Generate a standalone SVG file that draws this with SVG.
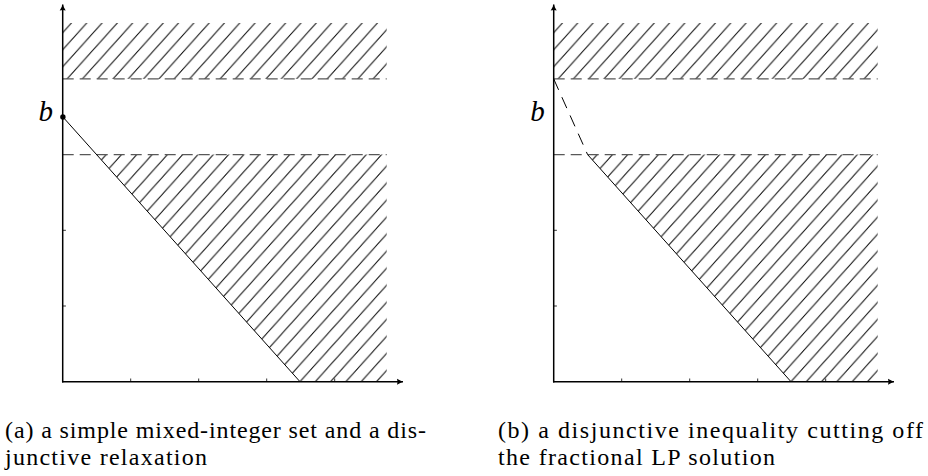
<svg xmlns="http://www.w3.org/2000/svg" width="928" height="476" viewBox="0 0 928 476">
  <style>
    .axis { stroke: #000; stroke-width: 1.5; fill: none; }
    .tick { stroke: #000; stroke-width: 0.8; fill: none; }
    .bound { stroke: #585858; stroke-width: 1.4; stroke-dasharray: 11 6; fill: none; }
    .cut { stroke: #000; stroke-width: 1; fill: none; }
    .cutdash { stroke: #000; stroke-width: 1; stroke-dasharray: 12 8; fill: none; }
    .hatch { fill: url(#hatch); stroke: none; }
    .lbl { font-family: "Liberation Serif", serif; font-style: italic; font-size: 29px; fill: #000; }
    .cap { font-family: "Liberation Serif", "Times New Roman", serif; font-size: 24px; fill: #000; }
  </style>
  <defs>
    <pattern id="hatch" patternUnits="userSpaceOnUse" x="0.3" y="0" width="15.3" height="17.03">
      <path d="M0,17.03 L15.3,0 M-1.53,1.703 L1.53,-1.703 M13.77,18.733 L16.83,15.327" stroke="#000" stroke-width="1" fill="none"/>
    </pattern>
    <marker id="arr" markerUnits="userSpaceOnUse" markerWidth="10" markerHeight="10" refX="0" refY="0" viewBox="-7 -5 10 10" orient="auto" overflow="visible">
      <path d="M-6,-3 Q-2.5,-0.8 0,0 Q-2.5,0.8 -6,3 Q-5,0 -6,-3 Z" fill="#000"/>
    </marker>
  </defs>

  <g id="panel-a">
    <g id="a-regions">
      <rect class="hatch" x="62.7" y="23" width="324" height="55.9"/>
      <polygon class="hatch" points="96.6,154.6 386.7,154.6 386.7,381.7 300,381.7"/>
    </g>
    <g id="a-connectors">
      <line class="bound" x1="62.7" y1="78.9" x2="386.7" y2="78.9"/>
      <line class="bound" x1="62.7" y1="154.6" x2="386.7" y2="154.6"/>
      <line class="cut" x1="62.7" y1="116.75" x2="300" y2="381.7"/>
      <line class="axis" x1="62.7" y1="382.4" x2="62.7" y2="4.5" marker-end="url(#arr)"/>
      <line class="axis" x1="62" y1="381.7" x2="403" y2="381.7" marker-end="url(#arr)"/>
      <path class="tick" d="M130.7,381.7 V378.5 M198.7,381.7 V378.5 M266.7,381.7 V378.5 M334.7,381.7 V378.5 M62.7,306 H65.9 M62.7,230.3 H65.9"/>
    </g>
    <g id="a-point">
      <circle cx="62.9" cy="117" r="2.7" fill="#000"/>
      <text class="lbl" x="38.5" y="120.5">b</text>
    </g>
    <text class="cap" x="5" y="438" textLength="421" lengthAdjust="spacing">(a) a simple mixed-integer set and a dis-</text>
    <text class="cap" x="5" y="465" textLength="202" lengthAdjust="spacing">junctive relaxation</text>
  </g>

  <g id="panel-b">
    <g transform="translate(491,0)">
      <g id="b-regions">
        <rect class="hatch" x="62.7" y="23" width="324" height="55.9"/>
        <polygon class="hatch" points="96.6,154.6 386.7,154.6 386.7,381.7 300,381.7"/>
      </g>
      <g id="b-connectors">
        <line class="bound" x1="62.7" y1="78.9" x2="386.7" y2="78.9"/>
        <line class="bound" x1="62.7" y1="154.6" x2="386.7" y2="154.6"/>
        <line class="cutdash" x1="62.7" y1="78.9" x2="96.6" y2="154.6"/>
        <line class="cut" x1="96.6" y1="154.6" x2="300" y2="381.7"/>
        <line class="axis" x1="62.7" y1="382.4" x2="62.7" y2="4.5" marker-end="url(#arr)"/>
        <line class="axis" x1="62" y1="381.7" x2="403" y2="381.7" marker-end="url(#arr)"/>
        <path class="tick" d="M130.7,381.7 V378.5 M198.7,381.7 V378.5 M266.7,381.7 V378.5 M334.7,381.7 V378.5 M62.7,306 H65.9 M62.7,230.3 H65.9"/>
      </g>
      <g id="b-label">
        <text class="lbl" x="39.2" y="120.5">b</text>
      </g>
    </g>
    <text class="cap" x="498" y="438" textLength="425" lengthAdjust="spacing">(b) a disjunctive inequality cutting off</text>
    <text class="cap" x="498" y="465" textLength="277" lengthAdjust="spacing">the fractional LP solution</text>
  </g>
</svg>
